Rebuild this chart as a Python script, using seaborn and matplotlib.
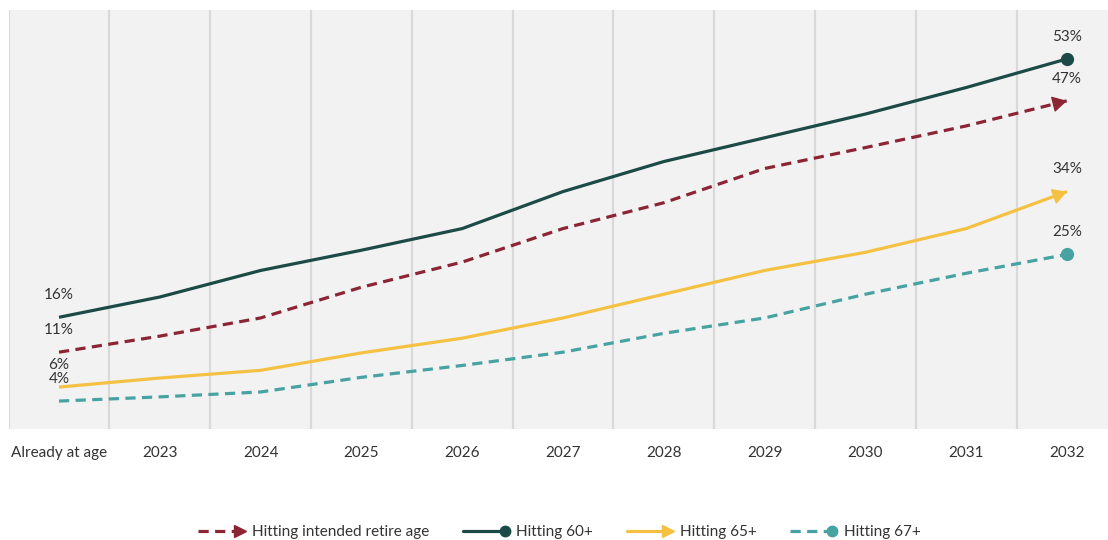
import numpy as np
import pandas as pd
import matplotlib
matplotlib.use("Agg")
import matplotlib.pyplot as plt
from matplotlib.lines import Line2D
from matplotlib.legend_handler import HandlerBase
import seaborn as sns

# --- data -------------------------------------------------------------------
categories = ["Already at age", "2023", "2024", "2025", "2026", "2027",
              "2028", "2029", "2030", "2031", "2032"]
intended = [11, 13.3, 15.9, 20.3, 23.9, 28.7, 32.4, 37.3, 40.3, 43.4, 47]
age60 = [16, 18.9, 22.7, 25.6, 28.7, 34.0, 38.3, 41.7, 45.1, 48.9, 53]
age65 = [6, 7.3, 8.4, 10.9, 13.0, 15.9, 19.3, 22.7, 25.3, 28.7, 34]
age67 = [4, 4.6, 5.3, 7.4, 9.1, 11.0, 13.7, 15.9, 19.3, 22.3, 25]

series_names = ["Hitting intended retire age", "Hitting 60+",
                "Hitting 65+", "Hitting 67+"]
series_values = [intended, age60, age65, age67]

# --- styling ----------------------------------------------------------------
colors = {
    "Hitting intended retire age": "#8c2533",
    "Hitting 60+": "#1c4a47",
    "Hitting 65+": "#f4c143",
    "Hitting 67+": "#47a2a2",
}
dashes = {
    "Hitting intended retire age": (3.2, 2.0),
    "Hitting 60+": "",
    "Hitting 65+": "",
    "Hitting 67+": (3.2, 2.0),
}
end_marks = {
    "Hitting intended retire age": "arrow",
    "Hitting 60+": "o",
    "Hitting 65+": "arrow",
    "Hitting 67+": "o",
}
text_color = "#333333"
LW = 2.3
FS = 11

sns.set_theme(style="white")
plt.rcParams["font.family"] = ["Lato", "DejaVu Sans"]

rows = []
for name, vals in zip(series_names, series_values):
    for i, v in enumerate(vals):
        rows.append({"pos": i, "value": v, "series": name})
df = pd.DataFrame(rows)

fig = plt.figure(figsize=(11.08, 5.40), dpi=100)
ax = fig.add_axes([8.6 / 1108, 111 / 540, 1108.8 / 1108, 419 / 540])
ax.set_facecolor("#f2f2f2")

sns.lineplot(data=df, x="pos", y="value", hue="series", style="series",
             palette=colors, dashes=dashes, linewidth=LW, legend=False,
             ax=ax, zorder=3)
for line in ax.lines:
    line.set_dash_capstyle("butt")
    line.set_solid_capstyle("butt")

n = len(categories)
ax.set_xlim(-0.5, n - 0.5)
ax.set_ylim(0, 60)

# column separators
ax.set_xticks(np.arange(n))
ax.set_xticks(np.arange(n + 1) - 0.5, minor=True)
ax.grid(False)
ax.grid(True, which="minor", axis="x", color="#d9d9d9", linewidth=1.6, zorder=0)
ax.set_yticks([])
ax.set_xticklabels(categories, fontsize=FS, color=text_color)
ax.tick_params(axis="x", which="both", length=0, pad=12)
for s in ax.spines.values():
    s.set_visible(False)
ax.set_xlabel("")
ax.set_ylabel("")

# end markers and value labels
for name, vals in zip(series_names, series_values):
    c = colors[name]
    last = len(vals) - 1
    if end_marks[name] == "o":
        ax.plot([last], [vals[last]], marker="o", markersize=8.5, color=c,
                linestyle="none", zorder=4)
    else:
        x0, y0 = last - 1, vals[last - 1]
        x1, y1 = last, vals[last]
        tail = (x1 - 0.02 * (x1 - x0), y1 - 0.02 * (y1 - y0))
        ax.annotate("", xy=(x1, y1), xytext=tail, zorder=4,
                    arrowprops=dict(arrowstyle="-|>,head_length=0.9,head_width=0.5",
                                    color=c, lw=1, shrinkA=0, shrinkB=0,
                                    mutation_scale=10))
    for idx in (0, last):
        ax.annotate(f"{vals[idx]:.0f}%", xy=(idx, vals[idx]),
                    xytext=(0, 16), textcoords="offset points",
                    ha="center", va="center", fontsize=FS,
                    color=text_color, zorder=5)


# legend: line with the end mark drawn at its right-hand end
class EndMarkHandler(HandlerBase):
    def create_artists(self, legend, orig_handle, xdescent, ydescent,
                       width, height, fontsize, trans):
        name = orig_handle.get_label()
        c = colors[name]
        y = height / 2 - ydescent
        x_start, x_end = -xdescent, width - xdescent
        ls = "-" if dashes[name] == "" else (0, dashes[name])
        kind = end_marks[name]
        if kind == "o":
            ln = Line2D([x_start, x_end - 4], [y, y], color=c, lw=LW,
                        linestyle=ls, dash_capstyle="butt")
            mk = Line2D([x_end - 4], [y], marker="o", markersize=7.5,
                        color=c, linestyle="none")
        else:
            ln = Line2D([x_start, x_end - 8], [y, y], color=c, lw=LW,
                        linestyle=ls, dash_capstyle="butt")
            mk = Line2D([x_end - 4], [y], marker=">", markersize=9,
                        color=c, linestyle="none")
        artists = [ln, mk]
        for a in artists:
            a.set_transform(trans)
        return artists


handles = [Line2D([], [], label=nm) for nm in series_names]
fig.legend(handles=handles, labels=series_names,
           handler_map={Line2D: EndMarkHandler()},
           loc="center", bbox_to_anchor=(0.505, 0.014), ncol=4,
           frameon=False, fontsize=FS, handlelength=3.1,
           handletextpad=0.4, columnspacing=2.2, labelcolor=text_color)

fig.savefig("out.png", dpi=100, facecolor="white")
